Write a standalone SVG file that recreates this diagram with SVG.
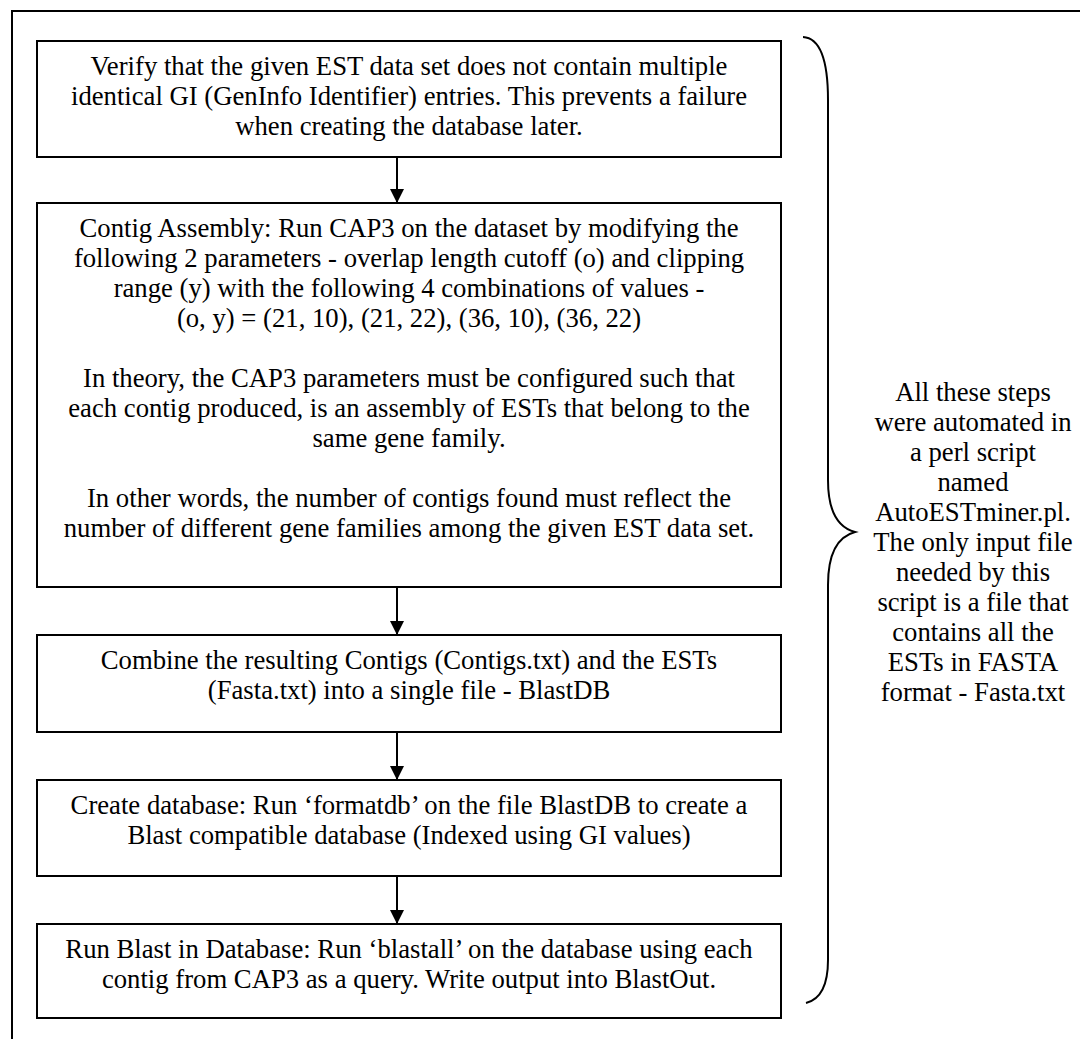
<svg xmlns="http://www.w3.org/2000/svg" width="1080" height="1039" viewBox="0 0 1080 1039">
<style>
.box{fill:#fff;stroke:#000;stroke-width:2}
.t{font-family:"Liberation Serif","Times New Roman",serif;font-size:26.7px;fill:#000;text-anchor:middle}
.con{stroke:#000;stroke-width:2;fill:none}
</style>
<defs>
<marker id="ah" markerWidth="16" markerHeight="14" refX="14" refY="7" orient="auto" markerUnits="userSpaceOnUse">
<path d="M0,0 L14,7 L0,14 Z" fill="#000"/>
</marker>
</defs>
<rect width="1080" height="1039" fill="#fff"/>
<rect x="12" y="11" width="1100" height="1100" fill="none" stroke="#000" stroke-width="2"/>
<g id="connectors">
<line class="con" x1="397" y1="157" x2="397" y2="203" marker-end="url(#ah)"/>
<line class="con" x1="397" y1="587" x2="397" y2="635" marker-end="url(#ah)"/>
<line class="con" x1="397" y1="732" x2="397" y2="780" marker-end="url(#ah)"/>
<line class="con" x1="397" y1="876" x2="397" y2="924" marker-end="url(#ah)"/>
</g>
<g id="step1">
<rect class="box" x="37" y="41" width="744" height="116"/>
<text class="t" x="409" y="75">Verify that the given EST data set does not contain multiple</text>
<text class="t" x="409" y="105">identical GI (GenInfo Identifier) entries. This prevents a failure</text>
<text class="t" x="409" y="135">when creating the database later.</text>
</g>
<g id="step2">
<rect class="box" x="37" y="203" width="744" height="384"/>
<text class="t" x="409" y="237">Contig Assembly: Run CAP3 on the dataset by modifying the</text>
<text class="t" x="409" y="267">following 2 parameters - overlap length cutoff (o) and clipping</text>
<text class="t" x="409" y="297">range (y) with the following 4 combinations of values -</text>
<text class="t" x="409" y="327">(o, y) = (21, 10), (21, 22), (36, 10), (36, 22)</text>
<text class="t" x="409" y="387">In theory, the CAP3 parameters must be configured such that</text>
<text class="t" x="409" y="417">each contig produced, is an assembly of ESTs that belong to the</text>
<text class="t" x="409" y="447">same gene family.</text>
<text class="t" x="409" y="507">In other words, the number of contigs found must reflect the</text>
<text class="t" x="409" y="537">number of different gene families among the given EST data set.</text>
</g>
<g id="step3">
<rect class="box" x="37" y="635" width="744" height="97"/>
<text class="t" x="409" y="669">Combine the resulting Contigs (Contigs.txt) and the ESTs</text>
<text class="t" x="409" y="699">(Fasta.txt) into a single file - BlastDB</text>
</g>
<g id="step4">
<rect class="box" x="37" y="780" width="744" height="96"/>
<text class="t" x="409" y="814">Create database: Run ‘formatdb’ on the file BlastDB to create a</text>
<text class="t" x="409" y="844">Blast compatible database (Indexed using GI values)</text>
</g>
<g id="step5">
<rect class="box" x="37" y="924" width="744" height="94"/>
<text class="t" x="409" y="958">Run Blast in Database: Run ‘blastall’ on the database using each</text>
<text class="t" x="409" y="988">contig from CAP3 as a query. Write output into BlastOut.</text>
</g>
<g id="brace">
<path class="con" d="M803,37 C820,38 828,60 828,100 L828,480 C828,515 840,528 855,532 C840,536 828,550 828,585 L828,960 C828,990 818,1000 806,1003"/>
</g>
<g id="note">
<text class="t" x="973" y="401">All these steps</text>
<text class="t" x="973" y="431">were automated in</text>
<text class="t" x="973" y="461">a perl script</text>
<text class="t" x="973" y="491">named</text>
<text class="t" x="973" y="521">AutoESTminer.pl.</text>
<text class="t" x="973" y="551">The only input file</text>
<text class="t" x="973" y="581">needed by this</text>
<text class="t" x="973" y="611">script is a file that</text>
<text class="t" x="973" y="641">contains all the</text>
<text class="t" x="973" y="671">ESTs in FASTA</text>
<text class="t" x="973" y="701">format - Fasta.txt</text>
</g>
</svg>
